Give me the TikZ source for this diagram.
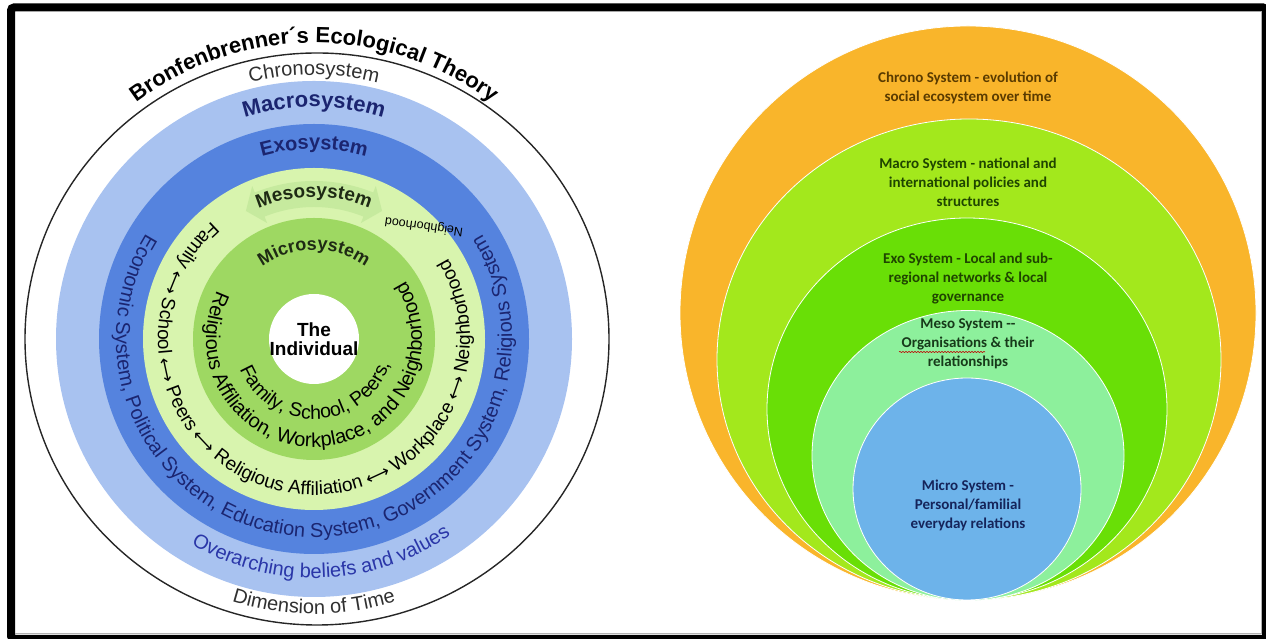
\documentclass[tikz,border=0pt]{standalone}
\usepackage{fontspec}
\usepackage{xcolor}
\usepackage{tikz}
\usetikzlibrary{positioning, decorations.text, decorations.pathmorphing}
\newfontfamily\ringfont{Liberation Sans}
\newfontfamily\boxfont{Carlito}
\newfontfamily\arrowfont{DejaVu Sans}
\newcommand\ecotitle{\ringfont\bfseries\fontsize{22}{26}\selectfont}
\newcommand\ecob[1]{\ringfont\bfseries\fontsize{#1}{#1}\selectfont}
\newcommand\ecop[1]{\ringfont\fontsize{#1}{#1}\selectfont}
\newcommand\linkarrow{\arrowfont\fontsize{17}{17}\selectfont}
\definecolor{macroblue}{HTML}{A8C2F0}
\definecolor{exoblue}{HTML}{5583DE}
\definecolor{mesogreen}{HTML}{D8F4AE}
\definecolor{microgreen}{HTML}{9ED862}
\definecolor{mesoarrow}{HTML}{C6EA9E}
\definecolor{navytext}{HTML}{1B2570}
\definecolor{darktext}{HTML}{1E2A14}
\definecolor{timegray}{HTML}{303030}
\definecolor{beliefblue}{HTML}{2A36A8}
\definecolor{chronoorange}{HTML}{F9B52B}
\definecolor{macrolime}{HTML}{A3E81C}
\definecolor{exogreen}{HTML}{69DF06}
\definecolor{mesomint}{HTML}{8DF09C}
\definecolor{microsky}{HTML}{6DB3EA}
\definecolor{chronobrown}{HTML}{5A3B00}
\definecolor{limedark}{HTML}{1F4500}
\definecolor{mintdark}{HTML}{173A1A}
\definecolor{skydark}{HTML}{15245A}

\begin{document}
\begin{tikzpicture}[x=1pt, y=1pt,
ring/.style={decorate, decoration={text along path, text align=center, text={#1}}},
layer/.style={draw=white, line width=0.8pt},
layertext/.style={font=\boxfont\bfseries\fontsize{15}{19}\selectfont, align=center}]
\useasboundingbox (0,0) rectangle (1266,639);

\begin{scope}[shift={(314,300)}]
\draw[line width=1.4pt, black!85] (3,0) ellipse [x radius=292, y radius=286];
\fill[macroblue] (0,0) circle (258);
\fill[exoblue] (0,0) circle (215);
\fill[mesogreen] (0,0) circle (171);
\fill[mesoarrow] (112:158) arc[start angle=112, end angle=68, radius=158] -- (68:165) -- (62:145) -- (68:125) -- (68:132) arc[start angle=68, end angle=112, radius=132] -- (112:125) -- (118:145) -- (112:165) -- cycle;
\fill[microgreen] (0,0) circle (121);
\fill[white] (0,0) circle (45);
\node[font=\ecob{19}, align=center, inner sep=0pt] (self) at (0,0) {The\\Individual};

\path[ring={|\ecotitle|Bronfenbrenner´s Ecological Theory}] (150:296) arc[start angle=150, end angle=30, radius=296];
\path[ring={|\ecop{20}\color{timegray}|Chronosystem}] (140:264) arc[start angle=140, end angle=40, radius=264];
\path[ring={|\ecob{22}\color{navytext}|Macrosystem}] (140:232) arc[start angle=140, end angle=40, radius=232];
\path[ring={|\ecob{20}\color{navytext}|Exosystem}] (140:190) arc[start angle=140, end angle=40, radius=190];
\path[ring={|\ecob{19}\color{darktext}|Mesosystem}] (140:142) arc[start angle=140, end angle=40, radius=142];
\path[ring={|\ecob{18}\color{darktext}|Microsystem}] (150:89) arc[start angle=150, end angle=30, radius=89];

\path[ring={|\ecop{19.5}|Family, School, Peers,}] (182:80) arc[start angle=182, end angle=362, radius=80];
\path[ring={|\ecop{20}|Religious Affiliation, Workplace, and Neighborhood}] (123:108) arc[start angle=123, end angle=423, radius=108];
\path[ring={|\ecop{19}|Family |\linkarrow|⟷|\ecop{19}| School |\linkarrow|⟷|\ecop{19}| Peers |\linkarrow|⟷|\ecop{19}| Religious Affiliation |\linkarrow|⟷|\ecop{19}| Workplace |\linkarrow|⟷|\ecop{19}| Neighborhood}] (111:156) arc[start angle=111, end angle=411, radius=156];
\node[font=\ecop{12.5}, rotate=172, inner sep=0pt] (hood) at (110,113) {Neighborhood};
\path[ring={|\ecop{20}\color{navytext}|Economic System, Political System, Education System, Government System, Religious System}] (120:198) arc[start angle=120, end angle=420, radius=198];
\path[ring={|\ecop{20}\color{beliefblue}|Overarching beliefs and values}] (200:239) arc[start angle=200, end angle=344, radius=239];
\path[ring={|\ecop{20}\color{timegray}|Dimension of Time}] (220:275) arc[start angle=220, end angle=320, radius=275];
\end{scope}

\fill[chronoorange, layer] (968,326) ellipse [x radius=288, y radius=287];
\fill[macrolime, layer] (969,279.5) ellipse [x radius=252, y radius=240.5];
\fill[exogreen, layer] (967,230) ellipse [x radius=200, y radius=191];
\fill[mesomint, layer] (968,183.5) ellipse [x radius=156, y radius=145];
\fill[microsky, layer] (967,150) ellipse [x radius=114, y radius=111];

\node[layertext, text=chronobrown] (chronotext) at (968,551) {Chrono System - evolution of\\social ecosystem over time};
\node[layertext, text=limedark] (macrotext) at (968,457) {Macro System - national and\\international policies and\\structures};
\node[layertext, text=limedark] (exotext) at (968,360) {Exo System - Local and sub-\\regional networks \& local\\governance};
\node[layertext, text=mintdark] (mesotext) at (968,295) {Meso System --\\Organisations \& their\\relationships};
\node[layertext, text=skydark] (microtext) at (968,134) {Micro System -\\Personal/familial\\everyday relations};
\draw[red!75!black, line width=0.6pt, decorate, decoration={snake, amplitude=0.6pt, segment length=3pt}] (899,287) -- (985,287);

\draw[line width=8pt, rounded corners=3pt] (11,0) rectangle (1266,631.5);
\draw[gray!60, line width=1pt] (15,5.5) -- (1261.5,5.5) -- (1261.5,627);
\end{tikzpicture}
\end{document}
